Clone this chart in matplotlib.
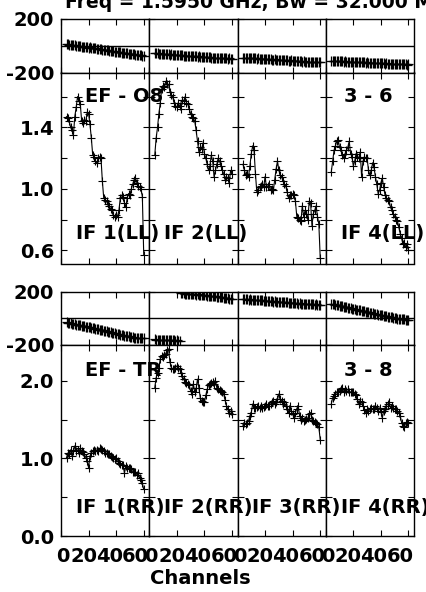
import numpy as np
import matplotlib
matplotlib.use('Agg')
import matplotlib.pyplot as plt
from matplotlib.transforms import ScaledTranslation

# Figure size in pixels (saved at dpi 100).
W, H = 426, 592

# Channel numbers shown in every panel.
channels = list(range(4, 61))

# Amplitudes, LL polarisation (IF 1..4).
amp_ll_if1 = [1.47, 1.46, 1.44, 1.40, 1.38, 1.35, 1.47, 1.53, 1.60, 1.57,
              1.55, 1.44, 1.43, 1.45, 1.44, 1.50, 1.49, 1.42, 1.33, 1.22,
              1.21, 1.18, 1.17, 1.20, 1.21, 1.20, 1.05, 0.94, 0.93, 0.92,
              0.90, 0.89, 0.87, 0.86, 0.83, 0.82, 0.83, 0.82, 0.86, 0.94,
              0.96, 0.95, 0.91, 0.88, 0.94, 0.97, 0.96, 1.00, 1.03, 1.06,
              1.07, 1.04, 1.02, 1.01, 1.00, 0.95, 0.57]
amp_ll_if2 = [1.22, 1.33, 1.40, 1.49, 1.56, 1.65, 1.67, 1.66, 1.70, 1.68,
              1.68, 1.63, 1.61, 1.60, 1.56, 1.54, 1.53, 1.56, 1.54, 1.52,
              1.58, 1.57, 1.60, 1.56, 1.55, 1.52, 1.49, 1.47, 1.46, 1.44,
              1.38, 1.31, 1.24, 1.27, 1.26, 1.30, 1.23, 1.20, 1.16, 1.12,
              1.15, 1.22, 1.18, 1.08, 1.12, 1.16, 1.20, 1.18, 1.15, 1.12,
              1.10, 1.06, 1.08, 1.07, 1.04, 1.12, 1.10]
amp_ll_if3 = [1.16, 1.12, 1.09, 1.10, 1.08, 1.15, 1.23, 1.28, 1.25, 1.10,
              0.98, 0.99, 1.01, 1.02, 1.03, 1.01, 1.08, 1.01, 1.02, 1.03,
              0.99, 1.00, 0.99, 1.06, 1.13, 1.18, 1.12, 1.09, 1.08, 1.05,
              1.03, 1.02, 0.98, 0.94, 0.96, 0.96, 0.97, 0.96, 0.92, 0.82,
              0.81, 0.80, 0.79, 0.89, 0.82, 0.86, 0.84, 0.80, 0.92, 0.91,
              0.76, 0.84, 0.86, 0.89, 0.82, 0.77, 0.55]
amp_ll_if4 = [1.11, 1.18, 1.25, 1.28, 1.31, 1.32, 1.27, 1.25, 1.22, 1.20,
              1.23, 1.25, 1.27, 1.31, 1.23, 1.21, 1.15, 1.18, 1.23, 1.21,
              1.20, 1.24, 1.08, 1.18, 1.21, 1.20, 1.20, 1.12, 1.09, 1.12,
              1.17, 1.14, 1.08, 1.03, 0.97, 0.99, 1.04, 1.07, 1.01, 0.96,
              0.94, 0.93, 0.92, 0.88, 0.86, 0.84, 0.82, 0.80, 0.79, 0.75,
              0.71, 0.68, 0.64, 0.65, 0.62, 0.64, 0.60]

# Amplitudes, RR polarisation (IF 1..4).
amp_rr_if1 = [1.01, 1.07, 1.05, 1.11, 1.03, 1.09, 1.16, 1.09, 1.11, 1.07,
              1.13, 1.09, 1.08, 1.05, 1.01, 0.97, 0.88, 1.03, 1.07, 1.09,
              1.11, 1.09, 1.11, 1.10, 1.13, 1.12, 1.11, 1.09, 1.07, 1.07,
              1.06, 1.05, 1.03, 1.02, 1.01, 0.99, 1.01, 0.96, 0.94, 0.93,
              0.92, 0.92, 0.81, 0.90, 0.88, 0.88, 0.87, 0.86, 0.83, 0.83,
              0.82, 0.79, 0.81, 0.75, 0.72, 0.68, 0.60]
amp_rr_if2 = [1.91, 2.04, 2.10, 2.17, 2.28, 2.32, 2.30, 2.33, 2.35, 2.39,
              2.41, 2.24, 2.17, 2.15, 2.15, 2.17, 2.19, 2.17, 2.15, 2.10,
              2.06, 2.02, 1.98, 1.97, 1.96, 1.94, 1.87, 1.83, 1.96, 1.85,
              1.90, 2.02, 1.91, 1.78, 1.74, 1.73, 1.72, 1.81, 1.89, 1.94,
              1.96, 1.97, 1.98, 1.96, 2.00, 1.91, 1.89, 1.88, 1.87, 1.85,
              1.83, 1.75, 1.68, 1.63, 1.59, 1.61, 1.57]
amp_rr_if3 = [1.42, 1.46, 1.44, 1.46, 1.48, 1.55, 1.59, 1.70, 1.65, 1.65,
              1.66, 1.68, 1.65, 1.68, 1.65, 1.66, 1.68, 1.70, 1.68, 1.68,
              1.70, 1.72, 1.74, 1.70, 1.72, 1.76, 1.83, 1.76, 1.74, 1.70,
              1.72, 1.68, 1.63, 1.59, 1.68, 1.61, 1.57, 1.52, 1.59, 1.64,
              1.68, 1.55, 1.50, 1.52, 1.48, 1.50, 1.51, 1.52, 1.57, 1.59,
              1.50, 1.48, 1.47, 1.46, 1.44, 1.40, 1.24]
amp_rr_if4 = [1.70, 1.78, 1.80, 1.83, 1.85, 1.85, 1.87, 1.89, 1.91, 1.85,
              1.89, 1.87, 1.89, 1.86, 1.85, 1.85, 1.85, 1.83, 1.81, 1.76,
              1.70, 1.74, 1.72, 1.68, 1.62, 1.59, 1.63, 1.61, 1.63, 1.65,
              1.63, 1.64, 1.68, 1.65, 1.61, 1.65, 1.60, 1.52, 1.61, 1.63,
              1.68, 1.70, 1.72, 1.65, 1.68, 1.65, 1.63, 1.63, 1.61, 1.59,
              1.55, 1.46, 1.42, 1.40, 1.46, 1.47, 1.46]

# Phases in degrees, LL.
ph_ll_if1 = [12, 10, 8, 9, 5, 3, 4, 0, -2, -1,
             -5, -6, -8, -10, -9, -13, -14, -13, -17, -18,
             -20, -19, -23, -24, -26, -25, -29, -30, -33, -32,
             -35, -36, -38, -40, -39, -43, -45, -46, -48, -47,
             -51, -52, -54, -53, -57, -58, -60, -61, -63, -62,
             -66, -67, -69, -70, -72, -74, -76]
ph_ll_if2 = [-55, -57, -56, -59, -60, -58, -62, -63, -61, -64,
             -65, -66, -64, -67, -68, -69, -67, -70, -71, -72,
             -70, -73, -74, -75, -73, -76, -77, -78, -76, -79,
             -80, -81, -79, -82, -83, -84, -82, -85, -86, -87,
             -85, -88, -89, -90, -88, -91, -92, -93, -91, -94,
             -93, -95, -94, -96, -95, -97, -96]
ph_ll_if3 = [-88, -90, -89, -91, -92, -90, -93, -94, -92, -95,
             -96, -95, -97, -98, -96, -99, -100, -98, -101, -102,
             -100, -103, -104, -102, -105, -106, -104, -107, -108, -106,
             -109, -110, -108, -111, -112, -110, -113, -114, -112, -115,
             -116, -114, -117, -118, -116, -119, -120, -118, -121, -120,
             -122, -121, -123, -122, -124, -123, -122]
ph_ll_if4 = [-112, -114, -113, -115, -114, -116, -115, -117, -116, -118,
             -117, -119, -118, -120, -119, -121, -120, -122, -121, -123,
             -122, -124, -123, -125, -124, -126, -125, -127, -126, -128,
             -127, -129, -128, -130, -129, -131, -130, -132, -131, -133,
             -132, -134, -133, -135, -134, -136, -135, -137, -136, -138,
             -137, -139, -138, -140, -139, -141, -140]

# Phases in degrees, RR (IF 2 wraps round +-180 near channel 23).
ph_rr_if1 = [-30, -33, -34, -38, -40, -41, -45, -47, -48, -52,
             -54, -55, -59, -61, -62, -66, -68, -69, -73, -75,
             -76, -80, -82, -83, -87, -89, -90, -94, -96, -97,
             -101, -103, -104, -108, -110, -111, -115, -117, -118, -122,
             -124, -125, -129, -131, -132, -136, -138, -139, -142, -144,
             -145, -146, -148, -147, -150, -149, -151]
ph_rr_if2 = [-158, -160, -159, -161, -160, -162, -161, -163, -162, -164,
             -163, -165, -164, -166, -165, -167, -166, -168, -167,
             188, 186, 187, 185, 184, 183, 184, 182, 180, 181,
             179, 177, 178, 176, 174, 175, 173, 171, 172, 170,
             168, 169, 167, 165, 166, 164, 162, 160, 161, 158,
             156, 154, 155, 152, 150, 147, 145, 142]
ph_rr_if3 = [145, 143, 144, 142, 140, 141, 139, 138, 139, 137,
             135, 136, 134, 133, 134, 132, 130, 131, 129, 128,
             129, 127, 125, 126, 124, 123, 124, 122, 120, 121,
             119, 118, 119, 117, 115, 116, 114, 113, 114, 112,
             110, 111, 109, 108, 109, 107, 106, 107, 105, 104,
             105, 103, 102, 103, 101, 100, 101]
ph_rr_if4 = [108, 105, 104, 100, 98, 97, 93, 91, 90, 86,
             84, 83, 79, 77, 76, 72, 70, 69, 65, 63,
             62, 58, 56, 55, 51, 49, 48, 44, 42, 41,
             37, 35, 34, 30, 28, 27, 23, 21, 20, 16,
             14, 13, 9, 7, 6, 2, 0, -1, -4, -6,
             -5, -8, -9, -8, -11, -10, -12]

amp_ll = [amp_ll_if1, amp_ll_if2, amp_ll_if3, amp_ll_if4]
amp_rr = [amp_rr_if1, amp_rr_if2, amp_rr_if3, amp_rr_if4]
ph_ll = [ph_ll_if1, ph_ll_if2, ph_ll_if3, ph_ll_if4]
ph_rr = [ph_rr_if1, ph_rr_if2, ph_rr_if3, ph_rr_if4]

# Texts.
title = 'Freq = 1.5950 GHz, Bw = 32.000 MHz'
if_labels_ll = ['IF 1(LL)', 'IF 2(LL)', '', 'IF 4(LL)']
if_labels_rr = ['IF 1(RR)', 'IF 2(RR)', 'IF 3(RR)', 'IF 4(RR)']
x_ticks = [0, 20, 40, 60]

plt.rcParams['font.family'] = 'DejaVu Sans'
plt.rcParams['font.weight'] = 'bold'
plt.rcParams['font.size'] = 14
plt.rcParams['axes.unicode_minus'] = False

fig = plt.figure(figsize=(W / 100, H / 100), dpi=100)

col_left = 61
col_w = 88.25
# The channel labels sit packed together a bit left of their ticks (pixels).
x_label_shift = [2, -5, -7, -8]


def px_box(left, top, width, height):
    '''Pixel box (top-left origin) -> figure fraction rect.'''
    return [left / W, 1 - (top + height) / H, width / W, height / H]


def fig_text(x, y, s, size=14, **kw):
    fig.text(x / W, 1 - y / H, s, fontweight='bold', fontsize=size, **kw)


def style(ax):
    ax.tick_params(direction='in', top=True, right=True, length=4.5,
                   width=0.8, labelsize=14)
    ax.tick_params(axis='y', pad=5)
    ax.tick_params(axis='x', pad=8)
    for s in ax.spines.values():
        s.set_linewidth(1.0)
    ax.set_xlim(0, 64)
    ax.set_xticks(x_ticks)


def draw_group(top, phases, amps, amp_lim, amp_ticks, amp_ticklabels, show_x):
    ph_h = 53.5
    amp_top = top + ph_h
    amp_h = 191
    for i in range(4):
        left = col_left + i * col_w
        # Phase panel.
        axp = fig.add_axes(px_box(left, top, col_w, ph_h))
        style(axp)
        axp.plot(channels, phases[i], linestyle='none', marker='+',
                 color='black', markersize=6.5, markeredgewidth=0.9)
        axp.axhline(0, color='black', lw=1.0)
        axp.set_ylim(-200, 200)
        axp.set_yticks([-200, 200])
        axp.set_xticklabels([])
        if i > 0:
            axp.set_yticklabels([])
        # Amplitude panel.
        axa = fig.add_axes(px_box(left, amp_top, col_w, amp_h))
        style(axa)
        axa.plot(channels, amps[i], color='black', lw=0.8, marker='+',
                 markersize=6, markeredgewidth=0.8)
        axa.set_ylim(*amp_lim)
        axa.set_yticks(amp_ticks)
        if i == 0:
            axa.set_yticklabels(amp_ticklabels)
        else:
            axa.set_yticklabels([])
        if not show_x:
            axa.set_xticklabels([])
        else:
            for lab, dx in zip(axa.get_xticklabels(), x_label_shift):
                lab.set_transform(lab.get_transform() +
                                  ScaledTranslation(dx / 100, 0, fig.dpi_scale_trans))


draw_group(19, ph_ll, amp_ll, (0.515, 1.757),
           [0.6, 0.8, 1.0, 1.2, 1.4, 1.6], ['0.6', '', '1.0', '', '1.4', ''], False)
draw_group(291.5, ph_rr, amp_rr, (0.0, 2.46),
           [0.0, 0.5, 1.0, 1.5, 2.0], ['0.0', '', '1.0', '', '2.0'], True)

# Title (cut at the top edge like the original).
fig_text(65, 8, title, size=13.5, ha='left', va='baseline')

# Baseline / source labels.
fig_text(85, 96, 'EF - O8', ha='left', va='center')
fig_text(368.5, 96, '3 - 6', ha='center', va='center')
fig_text(85, 370, 'EF - TR', ha='left', va='center')
fig_text(368.5, 370, '3 - 8', ha='center', va='center')

for i in range(4):
    left = col_left + i * col_w + 15
    if if_labels_ll[i]:
        fig_text(left, 233, if_labels_ll[i], ha='left', va='center')
    fig_text(left, 507, if_labels_rr[i], ha='left', va='center')

fig_text(200, 579, 'Channels', ha='center', va='center')

fig.savefig('out.png', dpi=100)
